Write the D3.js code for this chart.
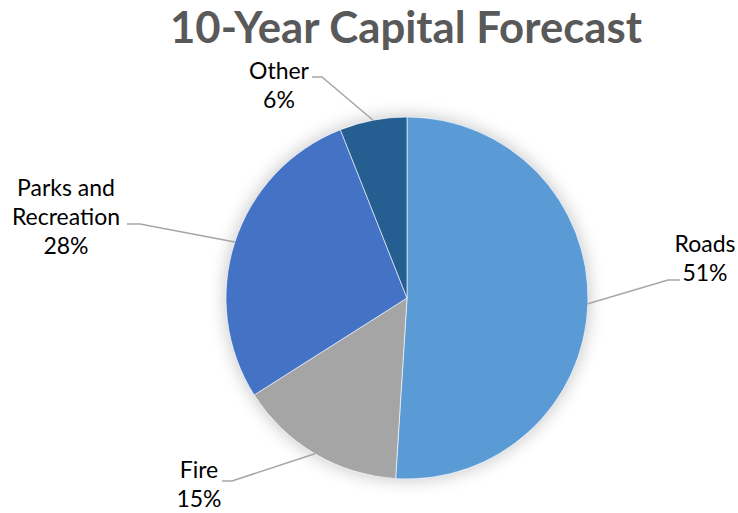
<!DOCTYPE html>
<html>
<head>
<meta charset="utf-8">
<script src="https://cdn.jsdelivr.net/npm/d3@7"></script>
<style>
  body { margin: 0; background: #fff; }
  svg text { font-family: Lato, "Open Sans", sans-serif; }
</style>
</head>
<body>
<svg id="chart" width="738" height="513"></svg>
<script>
// chart data
var categories = ["Roads", "Fire", "Parks and Recreation", "Other"];
var values = [51, 15, 28, 6];
var colors = ["#5B9BD5", "#A5A5A5", "#4472C4", "#255E91"];
var labelLines = [["Roads", "51%"], ["Fire", "15%"], ["Parks and", "Recreation", "28%"], ["Other", "6%"]];

// label placement (layout only)
var labelPos = [
  {x: 705, y: 252, elbow: [668, 280], end: [680, 280]},
  {x: 199, y: 478, elbow: [232, 481], end: [222, 481]},
  {x: 66, y: 196, elbow: [140, 224], end: [127, 224]},
  {x: 279, y: 79, elbow: [322, 77], end: [312, 77]}
];

var svg = d3.select("#chart");
var cx = 407, cy = 298, r = 181;

var defs = svg.append("defs");
var f = defs.append("filter").attr("id", "shadow")
  .attr("x", "-30%").attr("y", "-30%").attr("width", "160%").attr("height", "160%");
f.append("feGaussianBlur").attr("in", "SourceAlpha").attr("stdDeviation", 9);
f.append("feComponentTransfer").append("feFuncA").attr("type", "linear").attr("slope", 0.25);
var m = f.append("feMerge");
m.append("feMergeNode");
m.append("feMergeNode").attr("in", "SourceGraphic");

svg.append("text")
  .attr("x", 406).attr("y", 43)
  .attr("text-anchor", "middle")
  .attr("font-size", 43).attr("font-weight", "bold")
  .attr("fill", "#595959")
  .attr("textLength", 472).attr("lengthAdjust", "spacingAndGlyphs")
  .text("10-Year Capital Forecast");

var pie = d3.pie().sort(null).value(function(d) { return d; });
var arcs = pie(values);
var arc = d3.arc().innerRadius(0).outerRadius(r);

var g = svg.append("g").attr("transform", "translate(" + cx + "," + cy + ")");
g.append("circle").attr("r", r).attr("fill", "#fff").attr("filter", "url(#shadow)");
g.selectAll("path.slice").data(arcs).enter().append("path")
  .attr("class", "slice")
  .attr("d", arc)
  .attr("fill", function(d, i) { return colors[i]; })
  .attr("stroke", "#fff").attr("stroke-width", 0.6);

// leader lines from slice mid-angle on the rim
arcs.forEach(function(d, i) {
  var a = (d.startAngle + d.endAngle) / 2;
  var p0 = [cx + r * Math.sin(a), cy - r * Math.cos(a)];
  var lp = labelPos[i];
  svg.append("polyline")
    .attr("points", [p0, lp.elbow, lp.end].map(function(p) { return p.join(","); }).join(" "))
    .attr("fill", "none").attr("stroke", "#A6A6A6").attr("stroke-width", 1.5);

  var t = svg.append("text")
    .attr("text-anchor", "middle")
    .attr("font-size", 23)
    .attr("fill", "#000");
  labelLines[i].forEach(function(s, k) {
    t.append("tspan").attr("x", lp.x).attr("y", lp.y + k * 29).text(s);
  });
});
</script>
</body>
</html>
